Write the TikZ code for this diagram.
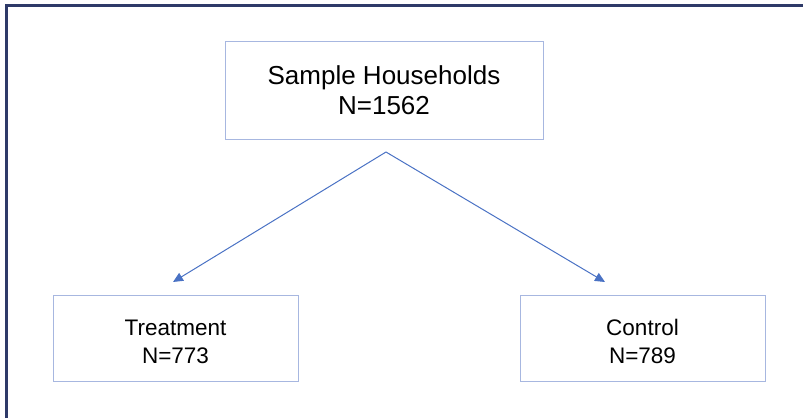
\documentclass[tikz,border=0pt]{standalone}
\usepackage{fontspec}
\setmainfont{Liberation Sans}
\usetikzlibrary{arrows.meta}
\definecolor{framenavy}{HTML}{2E3A68}
\definecolor{boxedge}{HTML}{A7B7E0}
\definecolor{linkblue}{HTML}{4A72C4}
\tikzset{
  groupbox/.style={draw=boxedge, line width=1pt, align=center, inner sep=0pt},
  bigtext/.style={font=\fontsize{26}{30}\selectfont},
  smalltext/.style={font=\fontsize{22.5}{28}\selectfont},
  link/.style={draw=linkblue, line width=1pt, -{Triangle[length=10pt,width=9pt]}},
}
\begin{document}
\begin{tikzpicture}[x=1pt,y=-1pt]
  \useasboundingbox (0,0) rectangle (803,418);
  % page frame (top and left edges)
  \draw[framenavy, line width=2.2pt] (6.5,418) -- (6.5,5.5) -- (803,5.5);
  % groups; the strut lowers the two-line text a little inside the lower boxes
  \node[groupbox, bigtext, minimum width=318pt, minimum height=98pt]
    (sample) at (384,90) {Sample Households\\N=1562};
  \node[groupbox, smalltext, minimum width=245pt, minimum height=86pt]
    (treat) at (175.5,338) {\rule{0pt}{23pt}Treatment\\N=773};
  \node[groupbox, smalltext, minimum width=245pt, minimum height=86pt]
    (ctrl) at (642.5,338) {\rule{0pt}{23pt}Control\\N=789};
  % split point and arrow tips
  \coordinate (split) at (386,152);
  \coordinate (treattip) at (173,282);
  \coordinate (ctrltip) at (605,282);
  \draw[link] (split) -- (treattip);
  \draw[link] (split) -- (ctrltip);
\end{tikzpicture}
\end{document}
